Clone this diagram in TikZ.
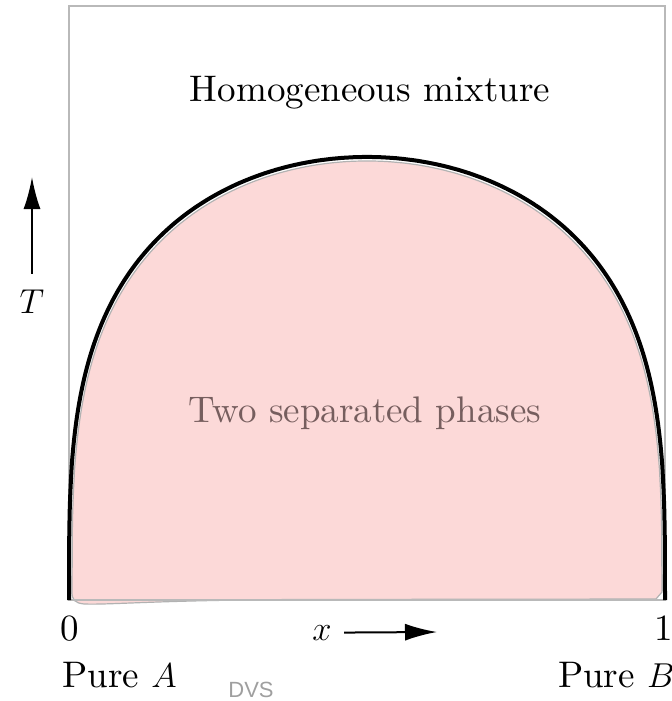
\documentclass[tikz,border=0pt]{standalone}
\usepackage{fontspec}
\setmainfont{lmroman10-regular}[Extension=.otf, ItalicFont=lmroman10-italic]
\newfontfamily\dvsfont{Liberation Sans}
\usepackage{tikz}
\usetikzlibrary{positioning,arrows.meta}
\definecolor{pinkfill}{RGB}{252,217,216}
\definecolor{phasetext}{RGB}{118,94,94}

\begin{document}
\begin{tikzpicture}[x={(0.5pt,0)}, y={(0,-0.5pt)}, >={Latex[length=16pt,width=8.5pt]},
  every node/.style={inner sep=0pt, font=\fontsize{18.5}{22}\selectfont},
  frame/.style={draw=gray!55, line width=1pt},
  binodal/.style={line width=2pt, line join=round},
  twophase/.style={fill=pinkfill, draw=gray!60, line width=0.6pt},
  axisarrow/.style={->, line width=1pt}]
\useasboundingbox (0,0) rectangle (672,701);
\filldraw[twophase] plot[domain=3:177, samples=240] ({367-295*cos(\x)}, {601-440*pow(sin(\x),0.6)})
  -- (662,592) -- (656,599) -- (300,599.5) .. controls (160,600) and (110,605) .. (84,604)
  .. controls (75,603) and (72,600) .. (72,592) -- cycle;
\draw[frame] (69,6) rectangle (665,600);
\coordinate (botL) at (69,600);
\coordinate (botR) at (665,600);
\draw[binodal] (botL) -- plot[domain=0.5:179.5, samples=300] ({367-298*cos(\x)}, {600-443*pow(sin(\x),0.6)}) -- (botR);
\node[anchor=base] (homog) at (370,102) {Homogeneous mixture};
\node[anchor=base, text=phasetext] (twoph) at (365,422) {Two separated phases};
\node[anchor=base] (zero) at (70,640) {0};
\node[anchor=base] (one) at (664,640) {1};
\node[anchor=base west] (pureA) at (62,687) {Pure $A$};
\node[anchor=base east] (pureB) at (675,687) {Pure $B$};
\node[anchor=base west, font=\dvsfont\fontsize{11}{13}\selectfont, text=gray!75] (credit) at (228,697) {DVS};
\node[anchor=base] (xlab) at (322,640) {$x$};
\coordinate (xtip) at (437,632);
\draw[axisarrow] ([xshift=6pt]xlab.east) -- (xtip);
\node[anchor=base] (tlab) at (32,313) {$T$};
\coordinate (ttip) at (32,177);
\draw[axisarrow] ([yshift=7.5pt]tlab.north) -- (ttip);
\end{tikzpicture}
\end{document}
